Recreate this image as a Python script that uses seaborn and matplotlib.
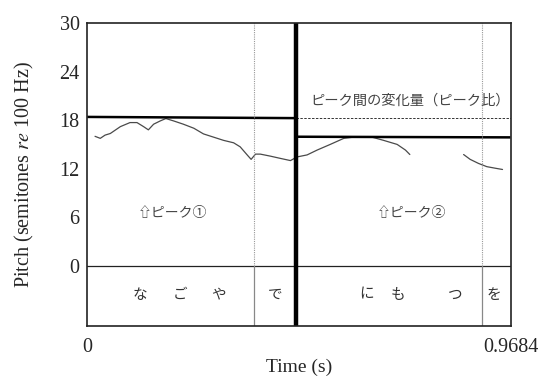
import matplotlib
matplotlib.use("Agg")
import matplotlib.pyplot as plt
import seaborn as sns
import pandas as pd

# Pitch contour (semitones re 100 Hz), two voiced stretches
seg1_t = [0.018, 0.030, 0.041, 0.053, 0.076, 0.098, 0.114, 0.129, 0.140, 0.152,
          0.167, 0.180, 0.198, 0.220, 0.244, 0.266, 0.289, 0.312, 0.335, 0.350,
          0.366, 0.375, 0.385, 0.396, 0.419, 0.442, 0.465, 0.480, 0.503, 0.526,
          0.556, 0.587, 0.617, 0.648, 0.678, 0.709, 0.728, 0.738]
seg1_p = [16.0, 15.75, 16.15, 16.35, 17.2, 17.7, 17.7, 17.2, 16.8, 17.5,
          17.9, 18.2, 17.9, 17.5, 17.0, 16.3, 15.9, 15.5, 15.2, 14.7,
          13.7, 13.15, 13.8, 13.8, 13.55, 13.27, 13.0, 13.45, 13.7, 14.3,
          15.0, 15.75, 15.95, 15.95, 15.5, 15.0, 14.3, 13.75]
seg2_t = [0.861, 0.876, 0.895, 0.914, 0.934, 0.950]
seg2_p = [13.75, 13.15, 12.65, 12.25, 12.05, 11.9]

# Peak reference lines
peak1_t = [0.0, 0.4775]
peak1_p = [18.4, 18.25]
peak2_t = [0.4775, 0.9684]
peak2_p = [15.95, 15.87]
peak1_extend_p = 18.3

# Boundaries
phrase_boundary = 0.4775
word_boundaries = [0.382, 0.904]
t_end = 0.9684

# Syllable tier
syllables = ["な", "ご", "や", "で", "に", "も", "つ", "を"]
syllable_t = [0.121, 0.213, 0.300, 0.430, 0.640, 0.712, 0.842, 0.931]

y_ticks = [0, 6, 12, 18, 24, 30]
x_ticks = [0, t_end]
x_tick_labels = ["0", "0.9684"]

sns.set_style("white")
plt.rcParams["font.family"] = ["Liberation Serif", "DejaVu Serif"]
plt.rcParams["mathtext.fontset"] = "stix"

jp = ["Noto Sans CJK JP", "DejaVu Sans"]

fig, ax = plt.subplots(figsize=(5.38, 3.79), dpi=100)
fig.subplots_adjust(left=0.162, right=0.949, top=0.939, bottom=0.14)

df1 = pd.DataFrame({"t": seg1_t, "p": seg1_p})
df2 = pd.DataFrame({"t": seg2_t, "p": seg2_p})
sns.lineplot(data=df1, x="t", y="p", ax=ax, color="#4a4a4a", linewidth=0.9,
             estimator=None, sort=False)
sns.lineplot(data=df2, x="t", y="p", ax=ax, color="#4a4a4a", linewidth=0.9,
             estimator=None, sort=False)

ax.plot(peak1_t, peak1_p, color="black", linewidth=1.8, solid_capstyle="butt")
ax.plot(peak2_t, peak2_p, color="black", linewidth=1.8, solid_capstyle="butt")
ax.plot([phrase_boundary, t_end], [peak1_extend_p, peak1_extend_p],
        color="#333333", linewidth=0.7, linestyle=(0, (2.5, 1.5)))

ax.axhline(0, color="#222222", linewidth=0.9)
for b in word_boundaries:
    ax.plot([b, b], [0, 30], color="#999999", linewidth=0.8, linestyle=(0, (1, 1)))
    ax.plot([b, b], [-7.45, 0], color="#888888", linewidth=0.9)
ax.axvline(phrase_boundary, color="black", linewidth=3.2)

ax.text(t_end - 0.002, 20.4, "ピーク間の変化量（ピーク比）", family=jp, fontsize=10.3,
        color="#444444", ha="right", va="center")
ax.text(0.195, 6.5, "⇧ピーク①", family=jp, fontsize=10, color="#444444",
        ha="center", va="center")
ax.text(0.741, 6.5, "⇧ピーク②", family=jp, fontsize=10, color="#444444",
        ha="center", va="center")
for s, t in zip(syllables, syllable_t):
    ax.text(t, -3.6, s, family=jp, fontsize=10.5, color="#333333",
            ha="center", va="center")

ax.set_xlim(0, t_end)
ax.set_ylim(-7.45, 30)
ax.set_yticks(y_ticks)
ax.set_xticks(x_ticks)
ax.set_xticklabels(x_tick_labels)
ax.tick_params(axis="both", which="both", direction="out", length=4, width=1,
               color="black", labelsize=14.5, pad=1.5)
ax.tick_params(axis="x", pad=5)
for sp in ax.spines.values():
    sp.set_color("#222222")
    sp.set_linewidth(1.2)

ax.set_xlabel("Time (s)", fontsize=14, labelpad=1)
ax.set_ylabel(r"Pitch (semitones $\it{re}$ 100 Hz)", fontsize=14.5, labelpad=17)

fig.savefig("out.png", dpi=100)
